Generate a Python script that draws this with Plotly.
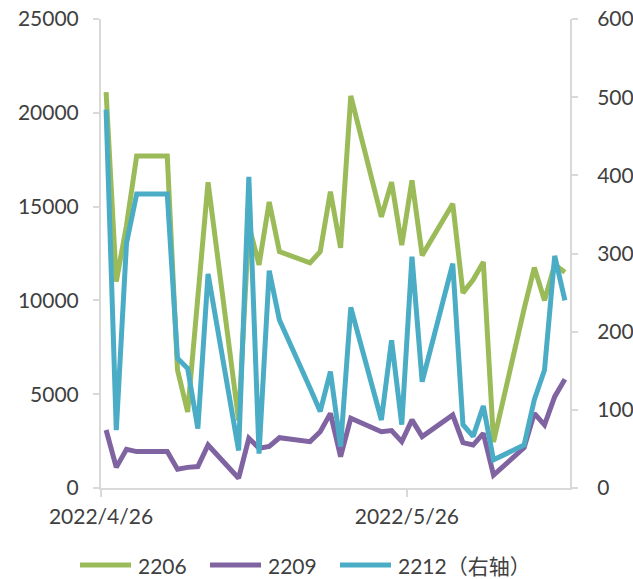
import pandas as pd
import plotly.graph_objects as go

# Trading dates (weekdays) covered by the series
dates = [
    "2022-04-26", "2022-04-27", "2022-04-28", "2022-04-29",
    "2022-05-02", "2022-05-03", "2022-05-04", "2022-05-05", "2022-05-06",
    "2022-05-09", "2022-05-10", "2022-05-11", "2022-05-12", "2022-05-13",
    "2022-05-16", "2022-05-17", "2022-05-18", "2022-05-19", "2022-05-20",
    "2022-05-23", "2022-05-24", "2022-05-25", "2022-05-26", "2022-05-27",
    "2022-05-30", "2022-05-31", "2022-06-01", "2022-06-02", "2022-06-03",
    "2022-06-06", "2022-06-07", "2022-06-08", "2022-06-09", "2022-06-10",
]

# Contract 2206 (left axis)
s2206 = [
    21100, 11000, 14000, 17700,
    17700, 6300, 4050, 10200, 16300,
    3600, 14000, 11900, 15250, 12600,
    12000, 12600, 15800, 12800, 20900,
    14450, 16300, 12950, 16400, 12400,
    15150, 10400, 11100, 12050, 2450,
    9550, 11750, 10000, 11900, 11500,
]

# Contract 2209 (left axis)
s2209 = [
    3090, 1100, 2060, 1940,
    1940, 1000, 1100, 1140, 2290,
    520, 2650, 2120, 2220, 2680,
    2470, 3000, 3980, 1670, 3720,
    3000, 3060, 2470, 3630, 2740,
    3890, 2420, 2290, 2910, 690,
    2150, 3980, 3360, 4870, 5800,
]

# Contract 2212 (right axis)
s2212 = [
    484, 74, 313, 376,
    376, 166, 153, 76, 274,
    48, 398, 44, 278, 215,
    128, 98, 149, 53, 231,
    87, 189, 81, 296, 136,
    287, 81, 66, 105, 36,
    55, 113, 151, 297, 240,
]

series_names = ["2206", "2209", "2212（右轴）"]
colors = ["#9BBB59", "#8064A2", "#4BACC6"]

x_tick_vals = ["2022-04-26", "2022-05-26"]
x_tick_text = ["2022/4/26", "2022/5/26"]
left_ticks = [0, 5000, 10000, 15000, 20000, 25000]
right_ticks = [0, 100, 200, 300, 400, 500, 600]

# each day is a slot on the date axis; points sit at the middle of their day
x = pd.to_datetime(dates) + pd.Timedelta(hours=12)

FONT = "Lato, 'Noto Sans CJK SC', sans-serif"
TXT = "#404040"
GRID = "#d9d9d9"

fig = go.Figure()
fig.add_trace(go.Scatter(x=x, y=s2206, name=series_names[0], mode="lines",
                         line=dict(color=colors[0], width=5)))
fig.add_trace(go.Scatter(x=x, y=s2209, name=series_names[1], mode="lines",
                         line=dict(color=colors[1], width=5)))
fig.add_trace(go.Scatter(x=x, y=s2212, name=series_names[2], mode="lines",
                         line=dict(color=colors[2], width=5), yaxis="y2"))

fig.update_layout(
    width=633, height=579,
    margin=dict(l=101, r=63, t=19, b=91),
    paper_bgcolor="white", plot_bgcolor="white",
    showlegend=False,
    font=dict(family=FONT, size=21, color=TXT),
    xaxis=dict(
        type="date",
        range=["2022-04-26", "2022-06-11"],
        tickvals=x_tick_vals, ticktext=x_tick_text,
        ticks="outside", ticklen=7, tickwidth=1.5, tickcolor=GRID,
        showline=True, linecolor=GRID, linewidth=2,
        showgrid=False, zeroline=False, automargin=False,
        ticklabelstandoff=2,
    ),
    yaxis=dict(
        range=[0, 25000], tickvals=left_ticks,
        ticktext=[str(v) for v in left_ticks],
        ticks="outside", ticklen=6, tickwidth=1.5, tickcolor=GRID,
        showline=True, linecolor=GRID, linewidth=2,
        showgrid=False, zeroline=False, automargin=False,
        ticklabelstandoff=10,
    ),
    yaxis2=dict(
        range=[0, 600], tickvals=right_ticks,
        ticktext=[str(v) for v in right_ticks],
        overlaying="y", side="right",
        ticks="outside", ticklen=6, tickwidth=1.5, tickcolor=GRID,
        showline=True, linecolor=GRID, linewidth=2,
        showgrid=False, zeroline=False, automargin=False,
        ticklabelstandoff=15,
    ),
)

# legend row drawn below the axis: colour swatch line followed by label
plot_w, plot_h = 633 - 101 - 63, 579 - 19 - 91
def px_x(px):
    return (px - 101) / plot_w
def px_y(py):
    return (488 - py) / plot_h

legend_y = 565
legend_items = [(80, 131, 136), (210, 261, 266), (340, 391, 396)]
for (x0, x1, tx), name, col in zip(legend_items, series_names, colors):
    fig.add_shape(type="line", xref="paper", yref="paper",
                  x0=px_x(x0), x1=px_x(x1), y0=px_y(legend_y), y1=px_y(legend_y),
                  line=dict(color=col, width=5))
    fig.add_annotation(xref="paper", yref="paper", x=px_x(tx), y=px_y(legend_y),
                       text=name, showarrow=False, xanchor="left", yanchor="middle",
                       font=dict(family=FONT, size=21, color=TXT))

fig.write_html("out.html")
